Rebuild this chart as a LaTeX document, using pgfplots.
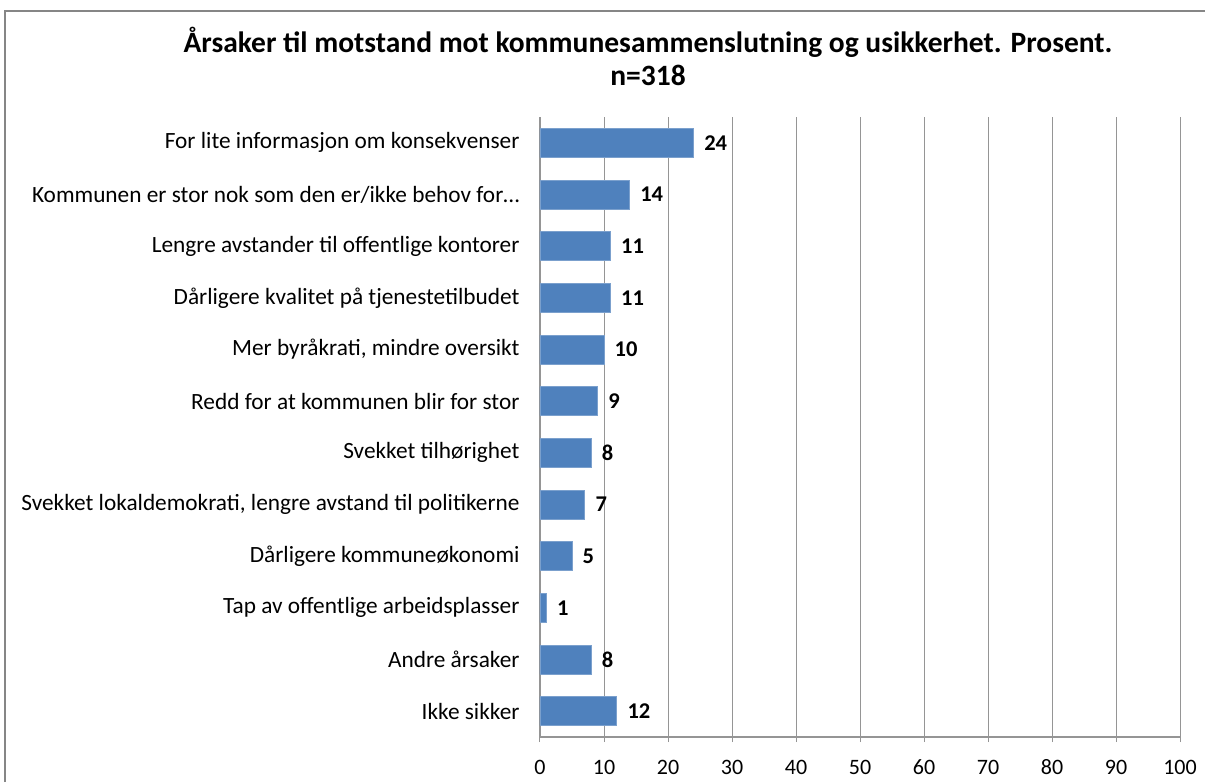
\documentclass[border=0pt]{standalone}
\usepackage{pgfplots}
\pgfplotsset{compat=1.18}
\usepackage{fontspec}
\setmainfont{Carlito}
\definecolor{barblue}{HTML}{4F81BD}
\definecolor{framegray}{HTML}{868686}
\definecolor{gridgray}{HTML}{959595}
\begin{document}
\begin{tikzpicture}[x=1pt,y=1pt]
\useasboundingbox (0,0) rectangle (1205,782);
\draw[color=framegray, line width=1.5pt] (5,0) -- (5,771) -- (1206,771);
\node[font=\bfseries\fontsize{29.5}{34}\selectfont] at (648,740) {Årsaker til motstand mot kommunesammenslutning og usikkerhet. Prosent.};
\node[font=\bfseries\fontsize{29.5}{34}\selectfont] at (648,707) {n=318};
\begin{axis}[
  at={(540pt,45pt)}, anchor=south west,
  scale only axis, width=640pt, height=620pt,
  xbar, bar width=29pt,
  xmin=0, xmax=100, ymin=-0.5, ymax=11.5,
  y dir=reverse,
  ytick={0,...,11},
  yticklabels={For lite informasjon om konsekvenser,
    Kommunen er stor nok som den er/ikke behov for…,
    Lengre avstander til offentlige kontorer,
    Dårligere kvalitet på tjenestetilbudet,
    {Mer byråkrati, mindre oversikt},
    Redd for at kommunen blir for stor,
    Svekket tilhørighet,
    {Svekket lokaldemokrati, lengre avstand til politikerne},
    Dårligere kommuneøkonomi,
    Tap av offentlige arbeidsplasser,
    Andre årsaker,
    Ikke sikker},
  xtick={0,10,...,100},
  xticklabels={0,10,20,30,40,50,60,70,80,90,100},
  xmajorgrids, grid style={gridgray, line width=1pt},
  axis x line*=bottom, axis y line*=left,
  axis line style={gridgray, line width=1.2pt, -},
  ytick style={draw=none},
  xtick style={gridgray, line width=1pt},
  tick align=outside, major tick length=5pt,
  /pgf/number format/assume math mode=true,
  xticklabel style={font=\fontsize{22}{26}\selectfont, anchor=base, yshift=-32pt},
  yticklabel style={font=\fontsize{23.3}{27}\selectfont, xshift=-12pt},
  nodes near coords,
  nodes near coords style={font=\bfseries\fontsize{22.5}{26}\selectfont, anchor=west, xshift=7pt, text=black},
]
\addplot[fill=barblue, draw=barblue!75!white, line width=0.8pt] coordinates {(24,0) (14,1) (11,2) (11,3) (10,4) (9,5) (8,6) (7,7) (5,8) (1,9) (8,10) (12,11)};
\end{axis}
\end{tikzpicture}
\end{document}
